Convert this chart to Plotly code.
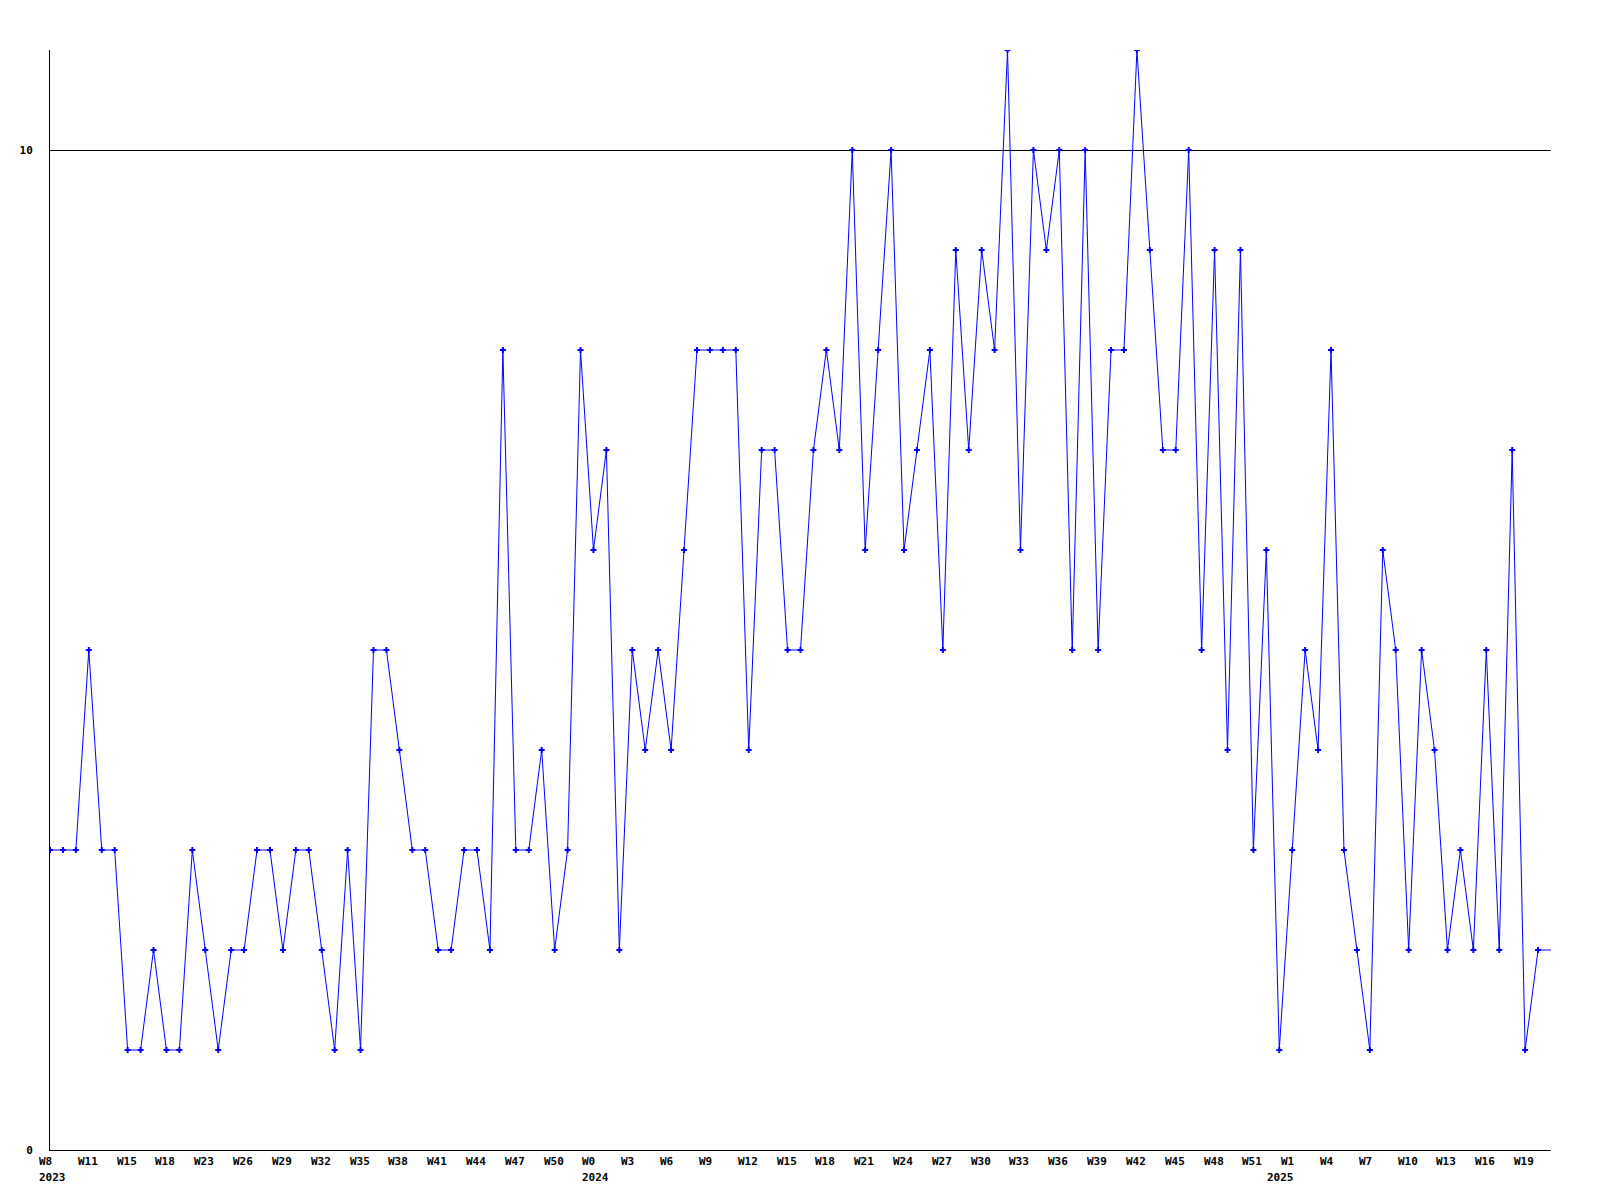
import plotly.graph_objects as go

values = [3, 3, 3, 5, 3, 3, 1, 1, 2, 1, 1, 3, 2, 1, 2, 2, 3, 3, 2, 3,
          3, 2, 1, 3, 1, 5, 5, 4, 3, 3, 2, 2, 3, 3, 2, 8, 3, 3, 4, 2,
          3, 8, 6, 7, 2, 5, 4, 5, 4, 6, 8, 8, 8, 8, 4, 7, 7, 5, 5, 7,
          8, 7, 10, 6, 8, 10, 6, 7, 8, 5, 9, 7, 9, 8, 11, 6, 10, 9, 10, 5,
          10, 5, 8, 8, 11, 9, 7, 7, 10, 5, 9, 4, 9, 3, 6, 1, 3, 5, 4, 8,
          3, 2, 1, 6, 5, 2, 5, 4, 2, 3, 2, 5, 2, 7, 1, 2]

week_labels = ["W8", "W11", "W15", "W18", "W23", "W26", "W29", "W32", "W35", "W38",
               "W41", "W44", "W47", "W50",
               "W0", "W3", "W6", "W9", "W12", "W15", "W18", "W21", "W24", "W27",
               "W30", "W33", "W36", "W39", "W42", "W45", "W48", "W51",
               "W1", "W4", "W7", "W10", "W13", "W16", "W19"]
year_labels = {0: "2023", 14: "2024", 32: "2025"}
label_step = 3

y_ticks = [0, 10]

n = len(values)
x = list(range(n))
tickvals = [i * label_step for i in range(len(week_labels))]

tick_font = dict(family="DejaVu Sans Mono", size=11, color="black", weight="bold")
year_xshift = {0: -12, 14: -12, 32: -26}

fig = go.Figure()
fig.add_trace(go.Scatter(
    x=x, y=values, mode="lines+markers",
    line=dict(color="#0000FF", width=1),
    marker=dict(symbol="cross", size=5, color="#0000FF", line=dict(width=0)),
    showlegend=False, hoverinfo="x+y",
))
# carry the last value to the right edge of the plot
fig.add_trace(go.Scatter(
    x=[n - 1, n], y=[values[-1], values[-1]], mode="lines",
    line=dict(color="#0000FF", width=1), showlegend=False, hoverinfo="skip",
))

annotations = []
for i, (tv, w) in enumerate(zip(tickvals, week_labels)):
    annotations.append(dict(
        x=tv, xref="x", y=0, yref="paper", text=w, showarrow=False,
        xanchor="left", yanchor="middle", xshift=-12, yshift=-11,
        font=tick_font, borderpad=0,
    ))
    if i in year_labels:
        annotations.append(dict(
            x=tv, xref="x", y=0, yref="paper", text=year_labels[i], showarrow=False,
            xanchor="left", yanchor="middle", xshift=year_xshift[i], yshift=-27,
            font=tick_font, borderpad=0,
        ))

fig.update_layout(
    width=1600, height=1200,
    margin=dict(l=42, r=57, t=42, b=58),
    paper_bgcolor="white", plot_bgcolor="white",
    font=dict(family="DejaVu Sans Mono", size=11, color="black"),
    annotations=annotations,
    xaxis=dict(
        range=[0, n], tickmode="array", tickvals=tickvals, showticklabels=False,
        showgrid=False, zeroline=False, showline=True, linecolor="black",
        linewidth=1, ticks="",
    ),
    yaxis=dict(
        range=[0, 11], tickmode="array", tickvals=y_ticks,
        ticktext=[str(v) for v in y_ticks],
        showgrid=True, gridcolor="black", gridwidth=1, zeroline=False,
        showline=True, linecolor="black", linewidth=1, ticks="",
        ticklabelstandoff=14,
        tickfont=tick_font,
    ),
)

fig.write_html("out.html")
